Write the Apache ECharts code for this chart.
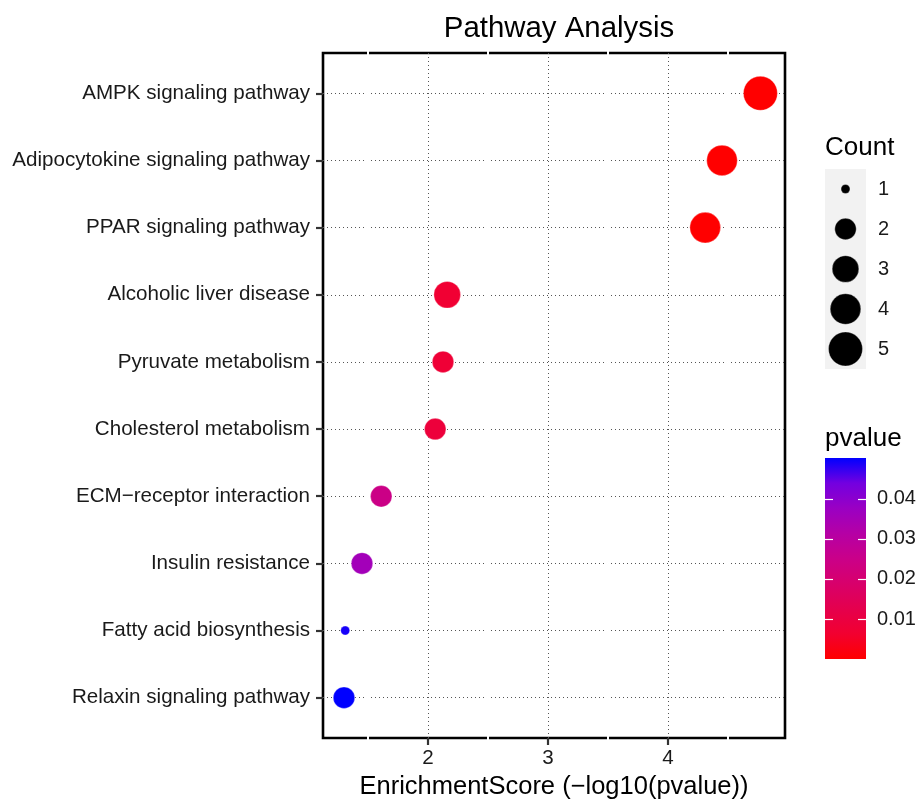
<!DOCTYPE html>
<html><head><meta charset="utf-8">
<script src="https://cdn.jsdelivr.net/npm/echarts@6/dist/echarts.min.js"></script>
<style>html,body{margin:0;padding:0;background:#fff}#c{width:921px;height:801px}</style>
</head><body><div id="c"></div>
<script>
// ---- data ----
const pathways = ['AMPK signaling pathway','Adipocytokine signaling pathway','PPAR signaling pathway','Alcoholic liver disease','Pyruvate metabolism','Cholesterol metabolism','ECM\u2212receptor interaction','Insulin resistance','Fatty acid biosynthesis','Relaxin signaling pathway'];
const enrichmentScore = [4.77, 4.45, 4.31, 2.16, 2.125, 2.06, 1.61, 1.45, 1.31, 1.30];
const pvalue = [0.000017, 0.000035, 0.000049, 0.0069, 0.0075, 0.0087, 0.0245, 0.0355, 0.049, 0.0502];
const count = [5, 4, 4, 3, 2, 2, 2, 2, 1, 2];
const xTicks = [2, 3, 4];
const xMinorGrid = [1.5, 2.5, 3.5, 4.5];
const countLegend = [1, 2, 3, 4, 5];
const pTicks = [0.01, 0.02, 0.03, 0.04];

// ---- styling ----
const FONT = '"Liberation Sans", Arial, sans-serif';
const rows = pathways.map((_, i) => i);
const xMin = 1.125, xMax = 4.975;
const pMin = Math.min(...pvalue), pMax = Math.max(...pvalue);
const stops = ['#FF0000','#F20030','#E5004D','#D8006B','#CA0089','#B500A5','#9A00C3','#7300E0','#0000FF'];
const sizeOf = c => 9 + 25 * Math.sqrt((c - 1) / 4);
const dotted = {color: '#555', width: 1, type: [1, 3]};
const txt = '#1a1a1a';
const noLine = {show: false, onZero: false};

const chart = echarts.init(document.getElementById('c'), null, {renderer: 'canvas'});
chart.setOption({
  backgroundColor: '#fff',
  animation: false,
  textStyle: {fontFamily: FONT},
  title: [
    {text: 'Pathway Analysis', left: 554, textAlign: 'center', top: 9, textStyle: {fontFamily: FONT, fontSize: 29.4, fontWeight: 'normal', color: '#000'}},
    {text: 'Count', left: 820, top: 130, textStyle: {fontFamily: FONT, fontSize: 26, fontWeight: 'normal', color: '#000'}},
    {text: 'pvalue', left: 820, top: 421, textStyle: {fontFamily: FONT, fontSize: 26, fontWeight: 'normal', color: '#000'}}
  ],
  grid: [
    {left: 323, top: 53, width: 462, height: 685, outerBoundsMode: 'none', containLabel: false, show: true, borderColor: '#000', borderWidth: 2.6, backgroundColor: '#fff'},
    {left: 825, top: 169, width: 41, height: 200, outerBoundsMode: 'none', containLabel: false, show: true, borderWidth: 0, backgroundColor: '#F2F2F2'},
    {left: 825, top: 458, width: 41, height: 201, outerBoundsMode: 'none', containLabel: false, show: true, borderWidth: 0,
     backgroundColor: {type: 'linear', x: 0, y: 1, x2: 0, y2: 0, colorStops: stops.map((c, i) => ({offset: i / (stops.length - 1), color: c}))}}
  ],
  xAxis: [
    {gridIndex: 0, type: 'value', min: xMin, max: xMax,
     name: 'EnrichmentScore (\u2212log10(pvalue))', nameLocation: 'middle', nameGap: 33,
     nameTextStyle: {fontFamily: FONT, fontSize: 25.5, color: '#000'},
     axisLine: noLine,
     axisTick: {show: true, customValues: xTicks, length: 7, lineStyle: {color: '#333', width: 2.2}},
     axisLabel: {customValues: xTicks, fontSize: 20.6, color: txt, margin: 10},
     splitLine: {show: true, lineStyle: dotted}},
    {gridIndex: 0, type: 'value', min: xMin, max: xMax, position: 'bottom', offset: 2,
     axisLine: noLine, axisLabel: {show: false}, splitLine: {show: false},
     axisTick: {show: true, customValues: xMinorGrid, inside: true, length: 690, lineStyle: {color: '#fff', width: 2}}},
    {gridIndex: 1, type: 'category', data: ['k'], show: false, axisLine: noLine},
    {gridIndex: 2, type: 'category', data: ['k'], show: false, axisLine: noLine}
  ],
  yAxis: [
    {gridIndex: 0, type: 'value', min: -0.6, max: pathways.length - 0.4, inverse: true,
     axisLine: noLine,
     axisTick: {show: true, customValues: rows, length: 7, lineStyle: {color: '#333', width: 2.2}},
     axisLabel: {customValues: rows, formatter: v => pathways[Math.round(v)], fontSize: 20.6, color: txt, margin: 13},
     splitLine: {show: true, lineStyle: dotted}},
    {gridIndex: 1, type: 'category', data: countLegend.map(String), inverse: true, position: 'right',
     axisLine: noLine, axisTick: {show: false},
     axisLabel: {fontSize: 20, color: txt, margin: 12}, splitLine: {show: false}},
    {gridIndex: 2, type: 'value', min: pMin, max: pMax, position: 'right', z: 10,
     axisLine: noLine, splitLine: {show: false},
     axisTick: {show: true, customValues: pTicks, inside: true, length: 8, lineStyle: {color: '#fff', width: 1.2}},
     axisLabel: {customValues: pTicks, formatter: v => v.toFixed(2), fontSize: 20, color: txt, margin: 11}},
    {gridIndex: 2, type: 'value', min: pMin, max: pMax, position: 'left', z: 10,
     axisLine: noLine, splitLine: {show: false}, axisLabel: {show: false},
     axisTick: {show: true, customValues: pTicks, inside: true, length: 8, lineStyle: {color: '#fff', width: 1.2}}}
  ],
  visualMap: [{type: 'continuous', show: false, seriesIndex: 0, dimension: 2, min: pMin, max: pMax, inRange: {color: stops}}],
  series: [
    {type: 'scatter', xAxisIndex: 0, yAxisIndex: 0, z: 5,
     data: pathways.map((n, i) => [enrichmentScore[i], i, pvalue[i], count[i]]),
     symbolSize: d => sizeOf(d[3]),
     itemStyle: {opacity: 1, borderColor: 'rgba(255,255,255,0.3)', borderWidth: 1}},
    {type: 'scatter', xAxisIndex: 2, yAxisIndex: 1, z: 5,
     data: countLegend.map(c => ['k', String(c), c]),
     symbolSize: d => sizeOf(d[2]),
     itemStyle: {color: '#000', opacity: 1, borderColor: 'rgba(255,255,255,0.3)', borderWidth: 1}}
  ]
});
</script></body></html>
